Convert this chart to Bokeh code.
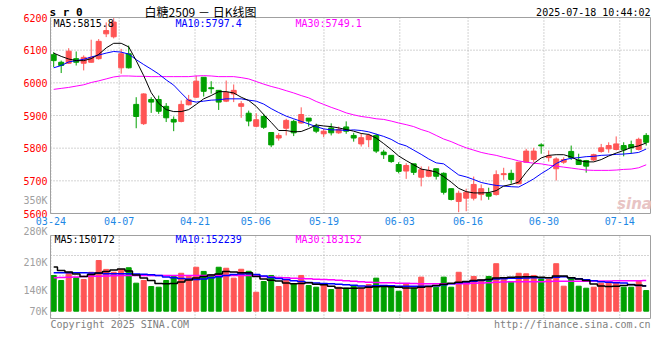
from bokeh.plotting import figure
from bokeh.models import Range1d, Grid, ColumnDataSource
from bokeh.core.properties import value
from bokeh.embed import file_html
from bokeh.resources import INLINE

# ---------------- data ----------------
tick_idx = [0, 9, 19, 27, 36, 46, 55, 65, 75]
tick_labels = ["03-24", "04-07", "04-21", "05-06", "05-19", "06-03", "06-16", "06-30", "07-14"]
price_ticks = [5600, 5700, 5800, 5900, 6000, 6100, 6200]
vol_tick_labels = ["350K", "280K", "210K", "140K", "70K"]

open_ = [6086, 6063, 6060, 6074, 6060, 6063, 6074, 6150, 6141, 6046,
         6089, 5934, 5875, 5949, 5949, 5928, 5888, 5882, 5933, 5956,
         6017, 5985, 5977, 5944, 5966, 5928, 5907, 5867, 5897, 5848,
         5831, 5861, 5882, 5877, 5892, 5867, 5844, 5862, 5847, 5865,
         5839, 5813, 5826, 5839, 5788, 5778, 5750, 5730, 5752, 5711,
         5714, 5737, 5723, 5676, 5637, 5647, 5647, 5658, 5662, 5658,
         5719, 5723, 5691, 5757, 5765, 5810, 5771, 5737, 5757, 5790,
         5764, 5762, 5764, 5790, 5798, 5796, 5808, 5811, 5796, 5839]
high = [6094, 6068, 6106, 6096, 6084, 6132, 6134, 6185, 6198, 6104,
        6114, 5956, 5968, 5956, 5961, 5938, 5897, 5946, 5963, 6022,
        6017, 6005, 5977, 6007, 5995, 5944, 5915, 5907, 5905, 5848,
        5846, 5890, 5887, 5925, 5892, 5875, 5859, 5876, 5866, 5882,
        5847, 5844, 5844, 5844, 5795, 5778, 5757, 5754, 5752, 5744,
        5744, 5737, 5726, 5676, 5670, 5676, 5713, 5689, 5679, 5732,
        5740, 5734, 5757, 5798, 5801, 5815, 5793, 5772, 5772, 5808,
        5783, 5764, 5783, 5813, 5818, 5836, 5818, 5823, 5832, 5846]
low = [6048, 6030, 6058, 6053, 6038, 6062, 6071, 6140, 6136, 6028,
       6044, 5861, 5871, 5908, 5905, 5880, 5852, 5879, 5931, 5954,
       5958, 5967, 5917, 5941, 5941, 5893, 5867, 5864, 5859, 5803,
       5823, 5839, 5837, 5875, 5866, 5846, 5834, 5839, 5844, 5844,
       5820, 5805, 5803, 5785, 5767, 5755, 5723, 5706, 5718, 5683,
       5711, 5704, 5658, 5640, 5604, 5607, 5640, 5640, 5642, 5655,
       5703, 5691, 5691, 5757, 5757, 5783, 5759, 5701, 5752, 5764,
       5749, 5725, 5760, 5786, 5786, 5793, 5775, 5783, 5793, 5808]
close = [6068, 6053, 6097, 6063, 6078, 6078, 6127, 6160, 6186, 6089,
         6046, 5897, 5966, 5941, 5913, 5893, 5880, 5934, 5948, 6005,
         5974, 5982, 5941, 5971, 5977, 5936, 5883, 5887, 5864, 5810,
         5839, 5885, 5847, 5903, 5883, 5852, 5852, 5847, 5857, 5852,
         5831, 5832, 5839, 5791, 5780, 5759, 5729, 5747, 5726, 5734,
         5732, 5714, 5665, 5643, 5662, 5665, 5689, 5676, 5653, 5719,
         5722, 5704, 5757, 5791, 5791, 5807, 5776, 5767, 5765, 5771,
         5750, 5745, 5780, 5801, 5808, 5813, 5795, 5801, 5827, 5818]
volume = [213, 183, 232, 199, 189, 232, 302, 249, 232, 249,
          259, 167, 183, 147, 143, 183, 207, 226, 207, 262,
          237, 217, 262, 256, 197, 250, 238, 113, 177, 213,
          147, 187, 163, 213, 153, 143, 157, 129, 143, 137,
          149, 134, 159, 197, 153, 147, 119, 163, 137, 203,
          149, 143, 203, 143, 232, 177, 207, 187, 207, 283,
          187, 173, 226, 223, 213, 193, 189, 283, 149, 199,
          149, 137, 143, 167, 173, 167, 143, 143, 177, 123]  # thousands

ma5 = [6091, 6081, 6073, 6068, 6068, 6074, 6087, 6107, 6121, 6121,
       6110, 6068, 6022, 5970, 5937, 5918, 5912, 5912, 5918, 5934,
       5951, 5961, 5973, 5973, 5969, 5956, 5946, 5928, 5903, 5879,
       5854, 5854, 5850, 5851, 5860, 5871, 5868, 5866, 5862, 5857,
       5852, 5845, 5842, 5831, 5814, 5796, 5776, 5762, 5749, 5736,
       5732, 5727, 5713, 5696, 5677, 5667, 5663, 5663, 5664, 5670,
       5684, 5689, 5696, 5726, 5753, 5770, 5778, 5780, 5780, 5773,
       5762, 5758, 5758, 5765, 5776, 5785, 5793, 5802, 5807, 5815.8]
ma10 = [6046, 6053, 6064, 6068, 6072, 6079, 6085, 6091, 6096, 6094,
        6088, 6071, 6056, 6042, 6027, 6009, 5993, 5969, 5946, 5941,
        5944, 5947, 5948, 5951, 5951, 5951, 5947, 5944, 5935, 5921,
        5909, 5898, 5890, 5882, 5874, 5866, 5859, 5856, 5856, 5854,
        5856, 5854, 5850, 5843, 5836, 5827, 5814, 5807, 5794, 5781,
        5767, 5755, 5752, 5735, 5718, 5712, 5704, 5695, 5690, 5686,
        5684, 5682, 5681, 5693, 5706, 5722, 5736, 5753, 5764, 5769,
        5771, 5774, 5775, 5778, 5779, 5781, 5782, 5784, 5787, 5797.4]
ma30 = [5980, 5983, 5986, 5990, 5994, 6001, 6006, 6012, 6018, 6021,
        6021, 6020, 6020, 6019, 6019, 6019, 6019, 6019, 6019, 6021,
        6022, 6021, 6019, 6019, 6019, 6016, 6012, 6004, 5996, 5989,
        5983, 5976, 5969, 5961, 5954, 5943, 5934, 5925, 5917, 5908,
        5902, 5897, 5894, 5890, 5888, 5883, 5877, 5872, 5866, 5857,
        5850, 5839, 5828, 5820, 5810, 5801, 5794, 5787, 5782, 5778,
        5772, 5767, 5761, 5757, 5754, 5752, 5748, 5745, 5742, 5739,
        5736, 5733, 5732, 5732, 5732, 5733, 5735, 5736, 5740, 5749.1]
vma5 = [263, 243, 234, 222, 207, 219, 228, 237, 246, 252,
        240, 216, 198, 183, 165, 163, 165, 174, 186, 198,
        207, 216, 222, 237, 234, 229, 229, 207, 192, 185,
        180, 168, 163, 165, 169, 161, 157, 149, 138, 137,
        137, 138, 142, 145, 147, 146, 143, 139, 138, 143,
        147, 153, 160, 166, 173, 177, 183, 186, 189, 198,
        200, 202, 204, 205, 206, 202, 199, 210, 210, 199,
        192, 183, 162, 150, 147, 149, 153, 157, 155, 150.172]
vma10 = [229, 229, 229, 229, 229, 228, 226, 223, 223, 223,
         223, 222, 220, 217, 213, 204, 199, 195, 192, 189,
         192, 199, 205, 213, 219, 221, 223, 219, 210, 201,
         195, 189, 182, 177, 171, 168, 165, 163, 160, 157,
         154, 150, 148, 151, 153, 151, 149, 149, 149, 149,
         149, 152, 157, 163, 169, 174, 178, 183, 187, 192,
         194, 196, 197, 198, 199, 199, 199, 203, 206, 199,
         194, 188, 182, 175, 172, 170, 168, 159, 153, 152.239]
vma30 = [199, 201, 202, 204, 207, 208, 209, 210, 212, 213,
         213, 213, 213, 213, 213, 213, 213, 213, 213, 213,
         213, 213, 213, 213, 213, 213, 213, 210, 207, 204,
         201, 199, 197, 195, 193, 191, 189, 187, 184, 181,
         178, 175, 173, 171, 170, 169, 167, 166, 165, 164,
         163, 163, 163, 163, 163, 164, 166, 168, 170, 172,
         174, 175, 176, 176, 176, 176, 177, 178, 178, 179,
         179, 179, 180, 180, 180, 181, 181, 182, 182, 183.152]

# ---------------- layout helpers (pixel -> data, Sina's own scales) ----------------
W, H = 660, 340
K = 1000.0


def X(px):            # candle i is centred at 53.2 + 7.5*i px
    return (px - 53.2) / 7.5


def P(py):            # price pane: 6200 at 17 px, 5600 at 213 px
    return 6200 - (py - 17) * 600.0 / 196.0


def V(py):            # volume pane: 0 at 310.7 px, 5960 lots per px
    return (310.7 - py) * 5960.0


MONO = value("DejaVu Sans Mono")
CJK = value("Noto Sans CJK SC")
UP, DOWN = "#FF5555", "#00A000"
GRID = "#A8A8A8"
BORDER = "#A0A0A0"

n = len(close)
xs = list(range(n))
grid_x = [i * 1.0113 - 0.373 for i in tick_idx]   # Sina's date grid scale
colors = [UP if c >= o else DOWN for o, c in zip(open_, close)]
src = ColumnDataSource(dict(
    x=xs, o=open_, h=high, l=low, c=close,
    top=[max(o, c) for o, c in zip(open_, close)],
    bot=[min(o, c) for o, c in zip(open_, close)],
    vol=[v * K for v in volume], color=colors))

p = figure(width=W, height=H, x_range=Range1d(X(0), X(W)), y_range=Range1d(P(H), P(0)),
           x_axis_location=None, y_axis_location=None, min_border=0,
           output_backend="svg", toolbar_location=None, tools="")
p.extra_y_ranges = {"vol": Range1d(V(H), V(0))}
p.center = [r for r in p.center if not isinstance(r, Grid)]
p.outline_line_color = None
p.background_fill_color = "white"
p.border_fill_color = "white"

L, R = X(50), X(650)

# grids
p.segment(x0=grid_x, x1=grid_x, y0=price_ticks[0], y1=price_ticks[-1],
          line_color=GRID, line_dash="1 2", line_width=1)
p.segment(x0=L, x1=R, y0=price_ticks[1:-1], y1=price_ticks[1:-1],
          line_color=GRID, line_dash="1 2", line_width=1)
vtop, vbot = V(235), V(318)
p.segment(x0=grid_x, x1=grid_x, y0=vbot, y1=vtop, y_range_name="vol",
          line_color=GRID, line_dash="1 2", line_width=1)
vgrid = [V(255.0), V(275.3), V(295.7)]
p.segment(x0=L, x1=R, y0=vgrid, y1=vgrid, y_range_name="vol",
          line_color=GRID, line_dash="1 2", line_width=1)

# candles
p.segment(x0="x", y0="l", x1="x", y1="h", color="color", line_width=1, source=src)
p.vbar(x="x", width=0.667, top="top", bottom="bot", fill_color="color",
       line_color="color", line_width=1, source=src)
p.line(xs, ma30, color="#FF00FF", line_width=1)
p.line(xs, ma10, color="#0000FF", line_width=1)
p.line(xs, ma5, color="#000000", line_width=1)

# volume
p.vbar(x="x", width=0.667, top="vol", bottom=0, fill_color="color", line_color="color",
       line_width=1, source=src, y_range_name="vol")
p.step(xs, [v * K for v in vma30], mode="center", color="#FF00FF", line_width=1.5, y_range_name="vol")
p.step(xs, [v * K for v in vma10], mode="center", color="#0000FF", line_width=1.5, y_range_name="vol")
p.step(xs, [v * K for v in vma5], mode="center", color="#000000", line_width=1.5, y_range_name="vol")

# pane borders
p.quad(left=L, right=R, bottom=price_ticks[0], top=price_ticks[-1], fill_color=None,
       line_color=BORDER, line_width=1)
p.quad(left=L, right=R, bottom=vbot, top=vtop, fill_color=None, line_color=BORDER,
       line_width=1, y_range_name="vol")

# axis labels
p.text(x=[X(47)] * len(price_ticks), y=price_ticks, text=[str(t) for t in price_ticks],
       text_font=MONO, text_font_size="10px", text_color="#FF0000",
       text_align="right", text_baseline="middle")
p.text(x=grid_x, y=[P(220.5)] * len(grid_x), text=tick_labels,
       text_font=MONO, text_font_size="10px", text_color="#1E88E5",
       text_align="center", text_baseline="middle")
p.text(x=[X(47)] * 5, y=[V(py) for py in (200, 231, 261.7, 290, 310.7)], text=vol_tick_labels,
       text_font=MONO, text_font_size="10px", text_color="#A0A0A0",
       text_align="right", text_baseline="middle", y_range_name="vol")


def txt(px, py, s, color, size="10px", align="left", font=MONO, style="normal"):
    p.text(x=[X(px)], y=[P(py)], text=[s], text_color=color, text_font=font,
           text_font_size=size, text_align=align, text_baseline="middle",
           text_font_style=style)


txt(49, 12, "s r 0", "#000000", size="11px", style="bold")
txt(200, 10.5, "白糖2509 － 日K线图", "#000000", size="12px", align="center", font=CJK)
txt(650, 11.5, "2025-07-18 10:44:02", "#000000", align="right")
txt(53, 23.3, "MA5:%.1f" % ma5[-1], "#000000")
txt(175, 23.3, "MA10:%.1f" % ma10[-1], "#0000FF")
txt(295, 23.3, "MA30:%.1f" % ma30[-1], "#FF00FF")
txt(54, 238.5, "MA5:%d" % round(vma5[-1] * K), "#000000")
txt(175, 238.5, "MA10:%d" % round(vma10[-1] * K), "#0000FF")
txt(295, 238.5, "MA30:%d" % round(vma30[-1] * K), "#FF00FF")
txt(50, 324, "Copyright 2025 SINA.COM", "#808080")
txt(650, 324, "http://finance.sina.com.cn", "#808080", align="right")
txt(634, 203, "sina", "#E8C4C4", size="15px", align="center", font=value("DejaVu Sans"),
    style="bold italic")

open("out.html", "w").write(file_html(p, INLINE))
